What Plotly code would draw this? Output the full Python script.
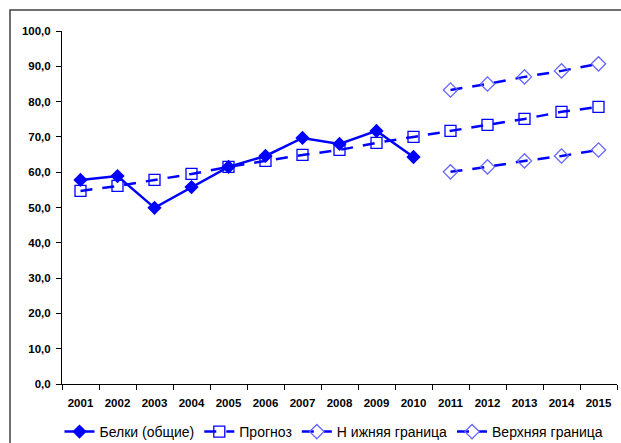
import plotly.graph_objects as go

years = [str(y) for y in range(2001, 2016)]
belki = [57.8, 58.9, 49.9, 55.8, 61.5, 64.6, 69.7, 68.0, 71.7, 64.3]
prognoz = [54.7, 56.1, 57.8, 59.5, 61.5, 63.2, 64.9, 66.3, 68.3, 70.0,
           71.7, 73.4, 75.1, 77.1, 78.5]
bound_years = years[10:]
lower = [60.1, 61.5, 63.2, 64.6, 66.3]
upper = [83.3, 85.0, 87.0, 88.7, 90.7]
y_ticks = [0, 10, 20, 30, 40, 50, 60, 70, 80, 90, 100]

BLUE = "#0000FF"
LIGHT = "#6666FF"
FONT = "Arial, Liberation Sans, sans-serif"

fig = go.Figure()
fig.add_trace(go.Scatter(
    x=years[:len(belki)], y=belki, name="Белки (общие)", mode="lines+markers",
    line=dict(color=BLUE, width=2.5),
    marker=dict(symbol="diamond", size=11, color=BLUE)))
fig.add_trace(go.Scatter(
    x=years, y=prognoz, name="Прогноз", mode="lines+markers",
    line=dict(color=BLUE, width=2.5, dash="12px,10px"),
    marker=dict(symbol="square-open", size=11, color=BLUE,
                line=dict(width=1.3))))
fig.add_trace(go.Scatter(
    x=bound_years, y=lower, name="Н ижняя граница", mode="lines+markers",
    line=dict(color=BLUE, width=2.5, dash="12px,10px"),
    marker=dict(symbol="diamond-open", size=11, color=LIGHT,
                line=dict(width=1.3))))
fig.add_trace(go.Scatter(
    x=bound_years, y=upper, name="Верхняя граница", mode="lines+markers",
    line=dict(color=BLUE, width=2.5, dash="12px,10px"),
    marker=dict(symbol="diamond-open", size=11, color=LIGHT,
                line=dict(width=1.3))))

tick_font = dict(size=11.5, family=FONT, weight="bold", color="black")

fig.update_layout(
    width=621, height=443,
    margin=dict(l=62, r=4, t=31, b=59, autoexpand=False),
    paper_bgcolor="white", plot_bgcolor="white",
    separators=", ",
    font=dict(family=FONT, color="black"),
    showlegend=True,
    legend=dict(orientation="h", x=334 / 621, xanchor="center",
                xref="container",
                y=1 - 432 / 443, yanchor="middle", yref="container",
                font=dict(size=14, family=FONT), itemwidth=30,
                tracegroupgap=0, bgcolor="rgba(0,0,0,0)"),
    xaxis=dict(type="category", range=[-0.5, 14.5], showgrid=False,
               showline=True, linecolor="black", linewidth=1,
               ticks="outside", ticklen=5, tickcolor="black",
               tickson="boundaries", ticklabelstandoff=8,
               tickfont=tick_font, fixedrange=True),
    yaxis=dict(range=[0, 100], tickvals=y_ticks, tickformat=".1f",
               showgrid=False, zeroline=False, showline=True,
               linecolor="black", linewidth=1, ticks="outside", ticklen=5,
               tickcolor="black", ticklabelstandoff=3,
               tickfont=tick_font, fixedrange=True),
    shapes=[dict(type="rect", xref="paper", yref="paper",
                 x0=(10 - 62) / 555, x1=1.2, y0=-0.5, y1=1 + 21 / 353,
                 line=dict(color="#404040", width=1.5), layer="below")],
)

fig.write_html("out.html")
